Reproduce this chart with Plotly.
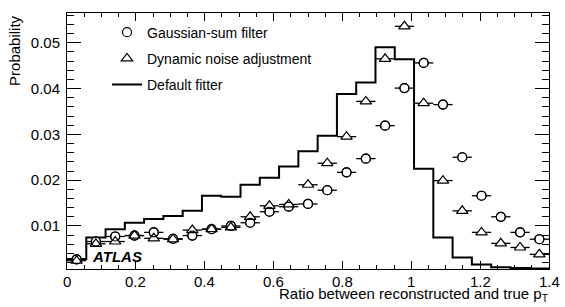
import numpy as np
import plotly.graph_objects as go

# ---- data ----
bin_edges = np.round(np.linspace(0.0, 1.4, 26), 4)
bin_centers = (bin_edges[:-1] + bin_edges[1:]) / 2
bin_half = (bin_edges[1:] - bin_edges[:-1]) / 2

gsf = [0.0027, 0.0066, 0.0077, 0.0079, 0.0086, 0.0072, 0.0079, 0.0093, 0.0100,
       0.0107, 0.0131, 0.0142, 0.0148, 0.0178, 0.0217, 0.0247, 0.0319, 0.0401,
       0.0456, 0.0365, 0.0250, 0.0166, 0.0120, 0.0086, 0.0071]

dna = [0.0024, 0.0061, 0.0066, 0.0079, 0.0073, 0.0071, 0.0091, 0.0093, 0.0097,
       0.0120, 0.0144, 0.0147, 0.0190, 0.0237, 0.0295, 0.0372, 0.0465, 0.0536,
       0.0368, 0.0199, 0.0133, 0.0086, 0.0062, 0.0053, 0.0038]

default_fitter = [0.0028, 0.0075, 0.0093, 0.0107, 0.0115, 0.0122, 0.0133, 0.0166,
                  0.0164, 0.0190, 0.0205, 0.0230, 0.0263, 0.0297, 0.0388, 0.0413,
                  0.0490, 0.0464, 0.0225, 0.0075, 0.0031, 0.0016, 0.0010, 0.0008,
                  0.0007]

x_ticks = [0, 0.2, 0.4, 0.6, 0.8, 1.0, 1.2, 1.4]
x_ticktext = ["0", "0.2", "0.4", "0.6", "0.8", "1", "1.2", "1.4"]
y_ticks = [0.01, 0.02, 0.03, 0.04, 0.05]
y_ticktext = ["0.01", "0.02", "0.03", "0.04", "0.05"]

FONT = "Liberation Sans, Arial, Helvetica, sans-serif"

fig = go.Figure()

# Default fitter histogram (step line)
fig.add_trace(go.Scatter(
    x=list(bin_edges), y=default_fitter + [default_fitter[-1]],
    mode="lines", line=dict(color="black", width=2, shape="hv"),
    name="Default fitter", legendrank=3, legendgroup="c",
))

# Gaussian-sum filter
fig.add_trace(go.Scatter(
    x=bin_centers, y=gsf, mode="markers", name="Gaussian-sum filter",
    marker=dict(symbol="circle", size=9, color="white",
                line=dict(color="black", width=1.2)),
    error_x=dict(type="data", array=bin_half, color="black", thickness=1.3, width=0),
    legendrank=1, legendgroup="a",
))

# Dynamic noise adjustment
fig.add_trace(go.Scatter(
    x=bin_centers, y=dna, mode="markers", name="Dynamic noise adjustment",
    marker=dict(symbol="triangle-up", size=10, color="white",
                line=dict(color="black", width=1.2)),
    error_x=dict(type="data", array=bin_half, color="black", thickness=1.3, width=0),
    legendrank=2, legendgroup="b",
))

# redraw circle outlines so overlapping markers both stay visible
fig.add_trace(go.Scatter(
    x=bin_centers, y=gsf, mode="markers", showlegend=False, hoverinfo="skip",
    marker=dict(symbol="circle-open", size=9, color="black",
                line=dict(color="black", width=1.2)),
))

axis_common = dict(
    showline=True, linecolor="black", linewidth=1, mirror="allticks",
    ticks="inside", tickcolor="black", tickwidth=1,
    showgrid=False, zeroline=False,
    tickfont=dict(family=FONT, size=15, color="black"),
)

fig.update_xaxes(
    range=[0, 1.4], tickvals=x_ticks, ticktext=x_ticktext, ticklen=8,
    showticklabels=False,
    minor=dict(dtick=0.05, ticklen=4, ticks="inside", tickcolor="black", showgrid=False),
    **axis_common,
)
fig.update_yaxes(
    range=[0.0006, 0.0565], tickvals=y_ticks, ticktext=y_ticktext, ticklen=14,
    ticklabelstandoff=3,
    minor=dict(dtick=0.002, tick0=0, ticklen=7, ticks="inside", tickcolor="black", showgrid=False),
    **axis_common,
)

# x tick labels
for xv, xt in zip(x_ticks, x_ticktext):
    fig.add_annotation(
        text=xt, xref="x", yref="paper", x=xv, y=0, xanchor="center", yanchor="top",
        yshift=-2, showarrow=False,
        font=dict(family=FONT, size=15, color="black"),
    )

fig.add_annotation(
    text="Ratio between reconstructed and true p<sub>T</sub>",
    xref="paper", yref="paper", x=1.0, y=0, xanchor="right", yanchor="top",
    yshift=-14, xshift=2, showarrow=False,
    font=dict(family=FONT, size=15, color="black"),
)
fig.add_annotation(
    text="Probability", textangle=-90,
    xref="paper", yref="paper", x=-0.109, y=1.0, xanchor="center", yanchor="top",
    showarrow=False, font=dict(family=FONT, size=15, color="black"),
)
fig.add_annotation(
    text="<b><i>ATLAS</i></b>",
    xref="paper", yref="paper", x=0.047, y=0.048, xanchor="left", yanchor="middle",
    showarrow=False, font=dict(family=FONT, size=15, color="black"),
)

fig.update_layout(
    width=565, height=307,
    margin=dict(l=67, r=16, t=13, b=38),
    paper_bgcolor="white", plot_bgcolor="white",
    showlegend=True,
    legend=dict(
        x=0.083, y=0.986, xanchor="left", yanchor="top",
        bgcolor="rgba(0,0,0,0)", borderwidth=0,
        font=dict(family=FONT, size=14, color="black"),
        tracegroupgap=5, traceorder="grouped",
    ),
)

fig.write_html(
    "out.html",
    config={"displayModeBar": False, "staticPlot": True},
    post_script="document.body.style.margin='0';document.body.style.overflow='hidden';",
)
